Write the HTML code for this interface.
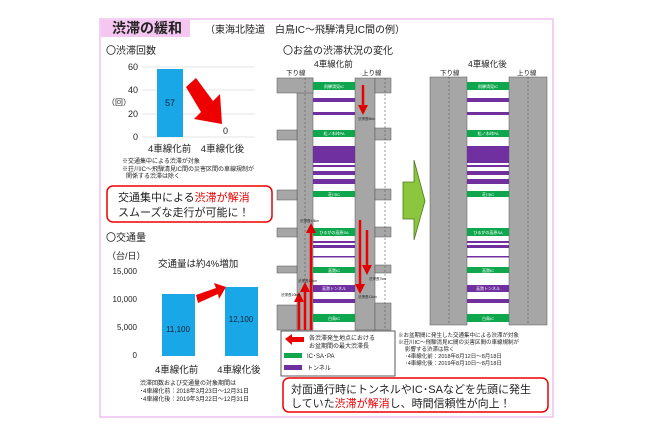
<!DOCTYPE html>
<html><head><meta charset="utf-8"><style>
body{margin:0;background:#fff;}
svg text{font-family:"Liberation Sans","Noto Sans CJK JP",sans-serif;}
</style></head><body>
<svg width="650" height="433" viewBox="0 0 650 433" xmlns="http://www.w3.org/2000/svg">
<defs>
<marker id="ah" markerWidth="4" markerHeight="4" refX="2" refY="2" orient="auto"><path d="M0,0L4,2L0,4Z" fill="#e00000"/></marker>
</defs>
<rect x="100" y="19" width="453" height="398" fill="#fff" stroke="#f0c0f0" stroke-width="1.5"/>
<rect x="101" y="20" width="89" height="17" fill="#f5c6f0"/>
<text x="112" y="33" font-size="14" fill="#222" font-weight="bold">渋滞の緩和</text>
<text x="205" y="33" font-size="10" fill="#222">（東海北陸道　白鳥IC～飛騨清見IC間の例）</text>

<!-- chart 1 -->
<text x="106" y="54" font-size="10" fill="#222">〇渋滞回数</text>
<g font-size="9" fill="#222" text-anchor="end">
<text x="138" y="70">60</text><text x="138" y="93">40</text><text x="138" y="117">20</text><text x="138" y="140">0</text></g>
<text x="107" y="105" font-size="8" fill="#222">（回）</text>
<g stroke="#ddd" stroke-width="0.7"><line x1="142" y1="67" x2="255" y2="67"/><line x1="142" y1="90" x2="255" y2="90"/><line x1="142" y1="114" x2="255" y2="114"/><line x1="142" y1="137" x2="255" y2="137"/></g>
<rect x="157" y="69" width="26" height="68" fill="#1aa7e8"/>
<text x="170" y="106" font-size="9" fill="#123" text-anchor="middle">57</text>
<text x="223" y="134" font-size="9" fill="#222">0</text>
<polygon points="186,87 196,78 213,101 220,94 222,124 194,119 201,112" fill="#e00"/>
<text x="148" y="152" font-size="9.5" fill="#222">4車線化前　4車線化後</text>
<text x="122" y="163" font-size="6" fill="#222">※交通集中による渋滞が対象</text>
<text x="122" y="171" font-size="6" fill="#222">※荘川IC～飛騨清見IC間の災害区間の車線規制が</text>
<text x="126" y="178" font-size="6" fill="#222">関係する渋滞は除く</text>
<rect x="107" y="186" width="165" height="36" rx="6" fill="#fff" stroke="#e00" stroke-width="1.5"/>
<text x="118" y="201" font-size="11" fill="#222">交通集中による<tspan fill="#e00">渋滞が解消</tspan></text>
<text x="118" y="216" font-size="11" fill="#222">スムーズな走行が可能に！</text>

<!-- chart 2 -->
<text x="106" y="241" font-size="10" fill="#222">〇交通量</text>
<text x="107" y="259" font-size="9" fill="#222">（台/日）</text>
<text x="158" y="267" font-size="9.5" fill="#222">交通量は約4%増加</text>
<g font-size="8" fill="#222" text-anchor="end">
<text x="137" y="274">15,000</text><text x="137" y="302">10,000</text><text x="137" y="330">5,000</text><text x="137" y="358">0</text></g>
<rect x="162" y="294" width="33" height="62" fill="#1aa7e8"/>
<rect x="225" y="287" width="33" height="69" fill="#1aa7e8"/>
<text x="178" y="332" font-size="8" fill="#123" text-anchor="middle">11,100</text>
<text x="241" y="322" font-size="8" fill="#123" text-anchor="middle">12,100</text>
<polygon points="196,295 216,288 214,283 226,287 219,299 218,294 198,303" fill="#e00"/>
<text x="155" y="373" font-size="9.5" fill="#222">4車線化前　　4車線化後</text>
<text x="140" y="385" font-size="6" fill="#222">渋滞回数および交通量の対象期間は</text>
<text x="140" y="393" font-size="6" fill="#222">･4車線化前：2018年3月23日～12月31日</text>
<text x="140" y="401" font-size="6" fill="#222">･4車線化後：2019年3月22日～12月31日</text>

<!-- middle headings -->
<text x="283" y="54" font-size="10" fill="#222">〇お盆の渋滞状況の変化</text>
<text x="314" y="67" font-size="8.5" fill="#222">4車線化前</text>
<text x="286" y="75" font-size="6.5" fill="#222">下り線</text>
<text x="362" y="75" font-size="6.5" fill="#222">上り線</text>
<text x="468" y="67" font-size="8.5" fill="#222">4車線化後</text>
<text x="440" y="75" font-size="6.5" fill="#222">下り線</text>
<text x="517" y="75" font-size="6.5" fill="#222">上り線</text>

<!-- before road -->
<g fill="#a6a6a6" stroke="#555" stroke-width="0.5">
<rect x="297" y="78" width="16" height="252"/><rect x="355" y="78" width="20" height="252"/>
<rect x="277" y="78" width="36" height="15"/><rect x="277" y="130" width="20" height="10"/><rect x="277" y="190" width="20" height="10"/><rect x="277" y="228" width="20" height="9"/><rect x="277" y="266" width="20" height="7"/><rect x="277" y="305" width="20" height="25"/>
<rect x="375" y="78" width="16" height="15"/><rect x="375" y="128" width="16" height="12"/><rect x="375" y="189" width="16" height="11"/><rect x="375" y="227" width="16" height="10"/><rect x="375" y="265" width="16" height="8"/><rect x="375" y="303" width="16" height="27"/>
</g>
<g stroke="#555" stroke-dasharray="2,2" stroke-width="0.6"><line x1="305" y1="78" x2="305" y2="330"/><line x1="385" y1="78" x2="385" y2="330"/></g>
<g id="rows">
<g fill="#0fa74e"><rect x="313" y="82" width="42" height="8"/><rect x="313" y="130" width="42" height="7"/><rect x="313" y="191" width="42" height="6"/><rect x="313" y="228" width="42" height="8"/><rect x="313" y="267" width="42" height="6"/><rect x="313" y="314" width="42" height="8"/></g>
<g fill="#7030a0"><rect x="313" y="98" width="42" height="4"/><rect x="313" y="112" width="42" height="3"/><rect x="313" y="146" width="42" height="17"/><rect x="313" y="165" width="42" height="2"/><rect x="313" y="171" width="42" height="4"/><rect x="313" y="179" width="42" height="5"/><rect x="313" y="241" width="42" height="2"/><rect x="313" y="245" width="42" height="3"/><rect x="313" y="256" width="42" height="1.5"/><rect x="313" y="285" width="42" height="7"/><rect x="313" y="299" width="42" height="4"/></g>
</g>
<g font-size="4" fill="#fff" text-anchor="middle"><text x="334" y="88">飛騨清見IC</text><text x="334" y="135">松ノ木峠PA</text><text x="334" y="196">荘川IC</text><text x="334" y="234">ひるがの高原SA</text><text x="334" y="272">高鷲IC</text><text x="334" y="290">高鷲トンネル</text><text x="334" y="320">白鳥IC</text></g>
<!-- red arrows -->
<g stroke="#e00" stroke-width="2.5" marker-end="url(#ah)">
<line x1="363" y1="85" x2="363" y2="110"/>
<line x1="360" y1="220" x2="360" y2="289"/>
<line x1="367" y1="230" x2="367" y2="270"/>
<line x1="311" y1="330" x2="311" y2="228"/>
<line x1="305" y1="330" x2="305" y2="287"/>
<line x1="299" y1="330" x2="299" y2="297"/>
</g>
<g font-size="3.5" fill="#222"><text x="358" y="120">渋滞長5km</text><text x="300" y="222">渋滞長13km</text><text x="369" y="280">渋滞長7km</text><text x="358" y="298">渋滞長11km</text><text x="298" y="282">渋滞長12km</text><text x="281" y="296">渋滞長10km</text></g>

<!-- green arrow -->
<polygon points="403,182 414,182 414,160 425,201 414,240 414,219 403,219" fill="#8cc63f" stroke="#4a7a1a" stroke-width="0.8"/>

<!-- after road -->
<rect x="430" y="77" width="37" height="248" fill="#a6a6a6" stroke="#555" stroke-width="0.5"/>
<rect x="509" y="77" width="38" height="248" fill="#a6a6a6" stroke="#555" stroke-width="0.5"/>
<g stroke="#555" stroke-dasharray="2,2" stroke-width="0.6"><line x1="449" y1="77" x2="449" y2="325"/><line x1="528" y1="77" x2="528" y2="325"/></g>
<use href="#rows" transform="translate(154,0)"/>
<g font-size="4" fill="#fff" text-anchor="middle"><text x="488" y="88">飛騨清見IC</text><text x="488" y="135">松ノ木峠PA</text><text x="488" y="196">荘川IC</text><text x="488" y="234">ひるがの高原SA</text><text x="488" y="272">高鷲IC</text><text x="488" y="290">高鷲トンネル</text><text x="488" y="320">白鳥IC</text></g>

<!-- legend -->
<rect x="281" y="331" width="114" height="45" fill="#fff" stroke="#333" stroke-width="0.8"/>
<polygon points="285,339 292,334 292,337 304,337 304,342 292,342 292,345" fill="#e00"/>
<text x="309" y="340" font-size="6" fill="#222">各渋滞発生地点における</text>
<text x="309" y="348" font-size="6" fill="#222">お盆期間の最大渋滞長</text>
<rect x="284" y="353" width="18" height="5" fill="#0fa74e"/><text x="307" y="358" font-size="6" fill="#222">IC･SA･PA</text>
<rect x="284" y="365" width="18" height="5" fill="#7030a0"/><text x="307" y="370" font-size="6" fill="#222">トンネル</text>
<g font-size="5.5" fill="#222"><text x="398" y="337">※お盆期間に発生した交通集中による渋滞が対象</text><text x="398" y="344">※荘川IC～飛騨清見IC間の災害区間の車線規制が</text><text x="405" y="351">影響する渋滞は除く</text><text x="405" y="358">･4車線化前：2018年8月12日～8月18日</text><text x="405" y="365">･4車線化後：2019年8月10日～8月18日</text></g>
<rect x="283" y="378" width="265" height="34" rx="6" fill="#fff" stroke="#e00" stroke-width="1.5"/>
<text x="291" y="393" font-size="11" fill="#222">対面通行時にトンネルやIC･SAなどを先頭に発生</text>
<text x="291" y="407" font-size="11" fill="#222">していた<tspan fill="#e00">渋滞が解消</tspan>し、時間信頼性が向上！</text>
</svg>
</body></html>
